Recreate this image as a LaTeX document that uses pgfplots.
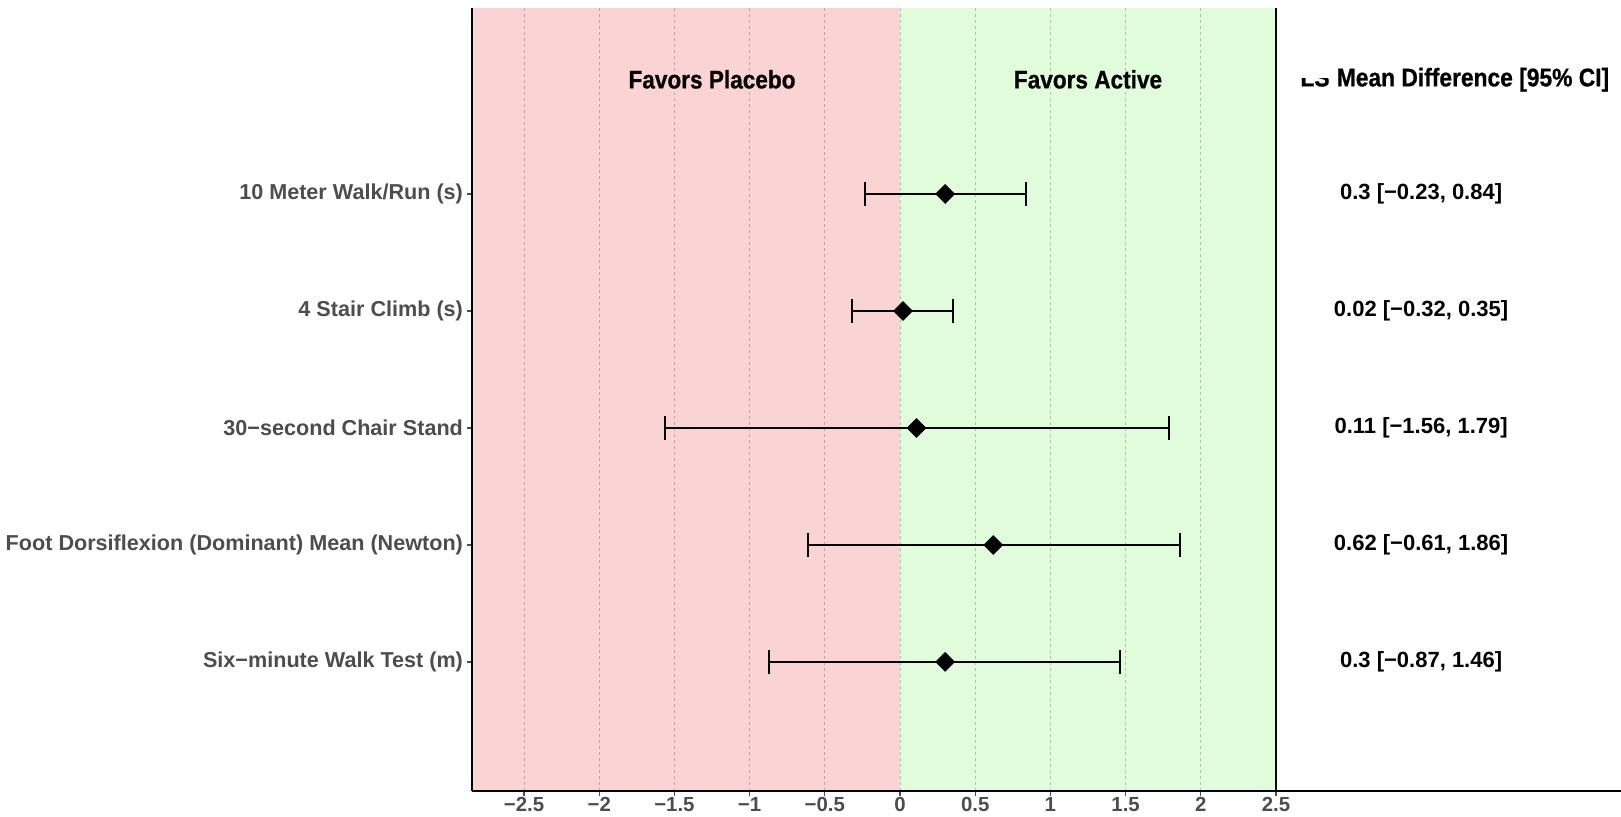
\documentclass[border=0pt]{standalone}
\usepackage{pgfplots}
\pgfplotsset{compat=1.18}
\usepackage{pgfplotstable}
\usepackage{graphicx}
\usepackage{fontspec}
\setmainfont{Liberation Sans}
\newfontfamily\hdrfont{Liberation Sans}[BoldFeatures={FakeBold=0.8}]
\definecolor{placebo}{HTML}{FAD4D2}
\definecolor{active}{HTML}{E0FCDA}
\definecolor{labgray}{HTML}{4D4D4D}
\pgfplotstableread{
y m em ep
5 0.30 0.53 0.54
4 0.02 0.34 0.33
3 0.11 1.67 1.68
2 0.62 1.23 1.24
1 0.30 1.17 1.16
}\datatable
\newcommand{\hdr}[1]{\scalebox{1}[1.12]{\hdrfont\bfseries #1}}
\begin{document}
\begin{tikzpicture}
\path[use as bounding box] (-236pt,-13pt) rectangle (574.5pt,395.5pt);
\begin{axis}[
  at={(0,0)}, anchor=south west,
  scale only axis, width=574.5pt, height=391.5pt,
  xmin=-2.846, xmax=4.794, ymin=-0.103, ymax=6.59,
  axis on top,
  axis x line*=bottom, axis y line*=left,
  axis line style={black, line width=0.9pt},
  xtick={-2.5,-2,-1.5,-1,-0.5,0,0.5,1,1.5,2,2.5},
  xticklabels={−2.5,−2,−1.5,−1,−0.5,0,0.5,1,1.5,2,2.5},
  ytick={1,2,3,4,5},
  yticklabels={Six−minute Walk Test (m),Foot Dorsiflexion (Dominant) Mean (Newton),30−second Chair Stand,4 Stair Climb (s),10 Meter Walk/Run (s)},
  tick align=outside, major tick length=2.5pt,
  tick style={labgray, line width=0.6pt},
  xmajorgrids,
  major grid style={black, opacity=0.22, line width=0.45pt, dash pattern=on 1.5pt off 1.5pt},
  xticklabel style={font=\fontsize{10.2}{12}\selectfont\bfseries, text=labgray, yshift=3pt},
  yticklabel style={font=\fontsize{10.8}{12}\selectfont\bfseries, text=labgray, xshift=1.5pt},
  clip=false,
]
\fill[placebo] (axis cs:-2.846,-0.103) rectangle (axis cs:0,6.59);
\fill[active] (axis cs:0,-0.103) rectangle (axis cs:2.5,6.59);
\draw[black, line width=0.9pt] (axis cs:2.5,-0.103) -- (axis cs:2.5,6.59);
\addplot[black, only marks, mark=square*, mark size=3.3pt,
  mark options={rotate=45, fill=black, draw=black},
  error bars/.cd, x dir=both, x explicit,
  error bar style={black, line width=1pt},
  error mark options={black, line width=1pt, mark size=5.9pt, rotate=90}]
  table[x=m, y=y, x error minus=em, x error plus=ep] {\datatable};
\node[font=\fontsize{11.3}{13}\selectfont] at (axis cs:-1.25,5.98) {\hdr{Favors Placebo}};
\node[font=\fontsize{11.3}{13}\selectfont] at (axis cs:1.25,5.98) {\hdr{Favors Active}};
\node[font=\fontsize{11.4}{13}\selectfont, anchor=base west, inner sep=0pt] (ls) at (axis cs:2.66,5.92) {\hdr{LS}};
\node[font=\fontsize{11.4}{13}\selectfont, anchor=base west, inner sep=0pt] at ([xshift=3.2pt]ls.base east) {\hdr{Mean Difference [95\% CI]}};
\fill[white] ([yshift=4pt]ls.base west) rectangle ([yshift=1pt]ls.north east);
\node[font=\fontsize{11}{13}\selectfont\bfseries] at (axis cs:3.465,5) {0.3 [−0.23, 0.84]};
\node[font=\fontsize{11}{13}\selectfont\bfseries] at (axis cs:3.465,4) {0.02 [−0.32, 0.35]};
\node[font=\fontsize{11}{13}\selectfont\bfseries] at (axis cs:3.465,3) {0.11 [−1.56, 1.79]};
\node[font=\fontsize{11}{13}\selectfont\bfseries] at (axis cs:3.465,2) {0.62 [−0.61, 1.86]};
\node[font=\fontsize{11}{13}\selectfont\bfseries] at (axis cs:3.465,1) {0.3 [−0.87, 1.46]};
\end{axis}
\end{tikzpicture}
\end{document}
